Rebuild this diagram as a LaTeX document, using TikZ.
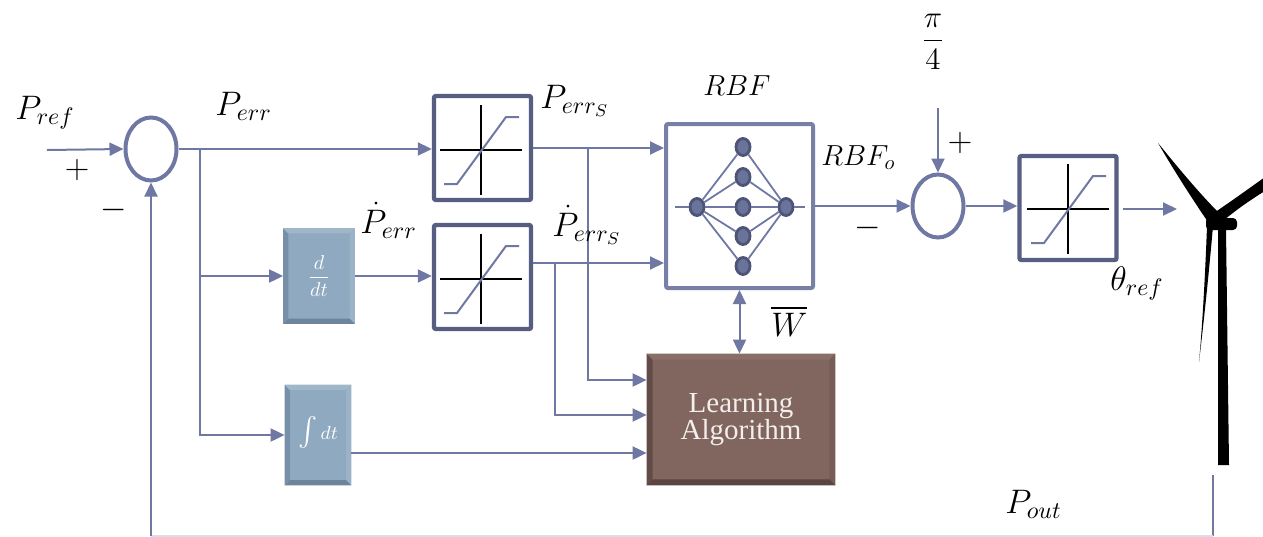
\RequirePackage{fix-cm}
\documentclass[tikz,border=0pt]{standalone}
\usepackage{amsmath}
\usepackage{fontspec}
\setmainfont{Liberation Serif}
\usetikzlibrary{arrows.meta,calc,shapes.geometric}

\definecolor{wire}{HTML}{6F78A3}
\definecolor{satframe}{HTML}{585E82}
\definecolor{rbfframe}{HTML}{7880A8}
\definecolor{neuron}{HTML}{6A7399}
\definecolor{neuronedge}{HTML}{4D5478}
\definecolor{opblue}{HTML}{8FA9C0}
\definecolor{opleft}{HTML}{7790A8}
\definecolor{optop}{HTML}{A0B7CA}
\definecolor{opright}{HTML}{9CB3C7}
\definecolor{opbottom}{HTML}{6C859C}
\definecolor{learnfill}{HTML}{80665F}
\definecolor{learnleft}{HTML}{634C47}
\definecolor{learntop}{HTML}{8A6F68}
\definecolor{learnright}{HTML}{765D57}
\definecolor{learnbottom}{HTML}{5B4540}
\definecolor{learntext}{HTML}{F4EEEC}

% sloped edge faces of a bevelled block: node, edge width, left/top/right/bottom colours
\newcommand\bevelfaces[6]{%
  \fill[#3] (#1.south west) -- (#1.north west) -- ([shift={(#2,-#2)}]#1.north west)
    -- ([shift={(#2,#2)}]#1.south west) -- cycle;
  \fill[#4] (#1.north west) -- (#1.north east) -- ([shift={(-#2,-#2)}]#1.north east)
    -- ([shift={(#2,-#2)}]#1.north west) -- cycle;
  \fill[#5] (#1.north east) -- (#1.south east) -- ([shift={(-#2,#2)}]#1.south east)
    -- ([shift={(-#2,-#2)}]#1.north east) -- cycle;
  \fill[#6] (#1.south east) -- (#1.south west) -- ([shift={(#2,#2)}]#1.south west)
    -- ([shift={(-#2,#2)}]#1.south east) -- cycle;
}
\newcommand\lblsize{\fontsize{17}{20}\selectfont}
\newcommand\rbfsize{\fontsize{14.5}{17}\selectfont}
\newcommand\learnfont{\color{learntext}\fontsize{14.5}{15}\selectfont}

\tikzset{
  wire/.style={draw=wire, line width=1pt},
  arr/.style={wire, -{Triangle[length=7pt,width=6.5pt]}},
  dblarr/.style={wire, {Triangle[length=7pt,width=6.5pt]}-{Triangle[length=7pt,width=6.5pt]}},
  sumnode/.style={ellipse, draw=wire, line width=2pt, minimum width=25.5pt,
    minimum height=31.5pt, inner sep=0pt},
  satbox/.style={rectangle, draw=satframe, line width=2.2pt, rounded corners=1pt,
    minimum width=48.5pt, minimum height=52pt, inner sep=0pt},
  rbfbox/.style={rectangle, draw=rbfframe, line width=2pt, rounded corners=1pt,
    minimum width=73.5pt, minimum height=82pt, inner sep=0pt},
  neuronnode/.style={ellipse, fill=neuron, draw=neuronedge, line width=1.4pt,
    minimum width=7pt, minimum height=8.5pt, inner sep=0pt},
  nnlink/.style={draw=wire, line width=0.9pt},
  lbl/.style={inner sep=0pt},
  opbox/.style={rectangle, inner sep=0pt, fill=opblue},
  learnbox/.style={rectangle, inner sep=0pt, fill=learnfill,
    minimum width=94pt, minimum height=65.5pt}
}

\begin{document}
\begin{tikzpicture}[x=0.5pt, y=-0.5pt]
\useasboundingbox (0,0) rectangle (1263,536);

% ---- summing junctions
\node[sumnode] (s1) at (151,149) {};
\node[sumnode] (s2) at (938,206) {};

% ---- saturation blocks
\node[satbox] (sat1) at (482.5,148) {};
\node[satbox] (sat2) at (482.5,277) {};
\node[satbox] (sat3) at (1068,208) {};
\foreach \cx/\cy in {481/150, 481/279, 1068/209}{
  \draw[black, line width=1.1pt] (\cx-41,\cy) -- (\cx+41,\cy) (\cx,\cy-45) -- (\cx,\cy+45);
  \draw[wire, line width=1pt] (\cx-37,\cy+34) -- (\cx-24,\cy+34) -- (\cx+25,\cy-33) -- (\cx+38,\cy-33);
}

% ---- derivative and integral blocks
\node[opbox, minimum width=35.5pt, minimum height=47.5pt] (ddt) at (319,276) {};
\bevelfaces{ddt}{2.6pt}{opleft}{optop}{opright}{opbottom}
\node[inner sep=0pt] (ddtt) at (ddt) {\color{white}\fontsize{10}{11}\selectfont$\dfrac{d}{dt}$};
\node[opbox, minimum width=33pt, minimum height=50pt] (int) at (318,435) {};
\bevelfaces{int}{2.6pt}{opleft}{optop}{opright}{opbottom}
\node[inner sep=0pt] (intt) at ($(int)+(0,-3)$)
  {\color{white}{\fontsize{14}{15}\selectfont$\int$}\,{\fontsize{9.5}{10}\selectfont$dt$}};

% ---- learning algorithm block
\node[learnbox] (learn) at (741,419.5) {};
\bevelfaces{learn}{3pt}{learnleft}{learntop}{learnright}{learnbottom}
\node[align=center, inner sep=0pt] (learnt) at (learn)
  {\learnfont Learning\\[-1pt]\learnfont Algorithm};

% ---- RBF network block
\node[rbfbox] (rbf) at (739.5,206) {};
\node[neuronnode] (nin) at (697,207) {};
\node[neuronnode] (h1) at (743,147) {};
\node[neuronnode] (h2) at (743,177) {};
\node[neuronnode] (h3) at (743,207) {};
\node[neuronnode] (h4) at (743,236) {};
\node[neuronnode] (h5) at (743,266) {};
\node[neuronnode] (nout) at (786,207) {};
\coordinate (nnl) at (675,207);
\coordinate (nnr) at (805,207);
\draw[nnlink] (nnl) -- (nin.west) (nout.east) -- (nnr);
\foreach \h in {h1,h2,h3,h4,h5}{
  \draw[nnlink] (nin) -- (\h);
  \draw[nnlink] (\h) -- (nout);
}

% ---- helper heights
\coordinate (y380) at (0,380);
\coordinate (y415) at (0,415);
\coordinate (y453) at (0,453);

% ---- signal paths
\coordinate (pin) at (47,150);
\draw[arr] (pin) -- (s1.west);
\draw[arr] (s1.east) -- (s1.east -| sat1.west);
\coordinate (j0) at (200,149);
\draw[arr] (j0) |- (ddt.west);
\draw[arr] (j0) |- (int.west);
\draw[arr] (ddt.east) -- (ddt.east -| sat2.west);
\draw[arr] (sat1.east) -- (sat1.east -| rbf.west);
\coordinate (s2out) at ($(sat2.east)+(0,-14)$);
\draw[arr] (s2out) -- (s2out -| rbf.west);
\coordinate (j1) at (588,148);
\draw[arr] (j1) |- (learn.west |- y380);
\coordinate (j2) at (555,263);
\draw[arr] (j2) |- (learn.west |- y415);
\draw[arr] (int.east |- y453) -- (learn.west |- y453);
\draw[dblarr] (rbf.south) -- (rbf.south |- learn.north);
\draw[arr] (rbf.east) -- (s2.west);
\coordinate (pi4) at (938,108);
\draw[arr] (pi4) -- (s2.north);
\draw[arr] (s2.east) -- (s2.east -| sat3.west);
\coordinate (turb) at (1177,209);
\coordinate (sat3o) at ($(sat3.east)+(4,1)$);
\draw[arr] (sat3o) -- (turb);

% ---- feedback of the measured power
\coordinate (tb) at (1213,475);
\coordinate (fb1) at (1213,536);
\coordinate (fb2) at (151,536);
\draw[wire] (tb) -- (fb1);
\draw[draw=wire!25, line width=1pt] (fb1) -- (fb2);
\draw[arr] (fb2) -- (s1.south);

% ---- wind turbine silhouette
\fill[black] (1158,143) .. controls (1180,170) and (1200,194) .. (1219,213)
  -- (1210,225) .. controls (1195,203) and (1176,174) .. (1158,143) -- cycle;
\fill[black] (1211,215) .. controls (1230,202) and (1247,190) .. (1265,177)
  -- (1265,191) .. controls (1250,200) and (1233,212) .. (1217,226) -- cycle;
\fill[black] (1207,226) .. controls (1205,280) and (1202,330) .. (1199,362)
  .. controls (1204,320) and (1209,272) .. (1213,226) -- cycle;
\fill[black] (1218,229) -- (1226,229) -- (1229,465) -- (1218,465) -- cycle;
\fill[black, rounded corners=2pt] (1206,218) rectangle (1237,230);
\fill[black] (1213,222) circle (3.5pt);

% ---- labels
\node[lbl, anchor=base west] (lpref) at (15,119) {\lblsize$P_{ref}$};
\node[lbl, anchor=base west] (lperr) at (215,115) {\lblsize$P_{err}$};
\node[lbl, anchor=base west] (lperrs) at (540,108) {\lblsize$P_{err_S}$};
\node[lbl, anchor=base west] (ldperrs) at (552,236) {\lblsize$\dot P_{err_S}$};
\node[lbl, anchor=base west] (ldperr) at (360,233) {\lblsize$\dot P_{err}$};
\node[lbl, anchor=base west] (lrbf) at (703,95) {\rbfsize$RBF$};
\node[lbl, anchor=base west] (lrbfo) at (821,165) {\rbfsize$RBF_o$};
\node[lbl, anchor=base west] (ltheta) at (1110,290) {\lblsize$\theta_{ref}$};
\node[lbl, anchor=base west] (lpout) at (1005,513) {\lblsize$P_{out}$};
\node[lbl, anchor=base west] (lw) at (771,336) {\lblsize$\overline{W}$};
\node[lbl] (lpi) at (933,42) {\fontsize{15.5}{18}\selectfont$\dfrac{\pi}{4}$};
\node[lbl] (p1) at (77,170) {\lblsize$+$};
\node[lbl] (m1) at (114,210) {\lblsize$-$};
\node[lbl] (m2) at (868,228) {\lblsize$-$};
\node[lbl] (p2) at (960,143) {\lblsize$+$};
\end{tikzpicture}
\end{document}
